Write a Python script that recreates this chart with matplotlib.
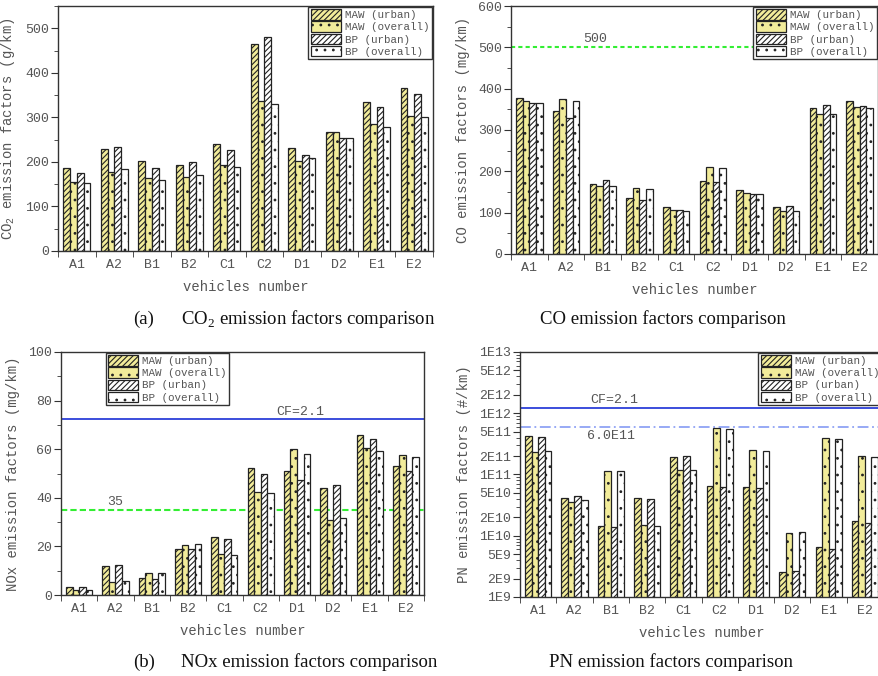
import numpy as np
import matplotlib
matplotlib.use("Agg")
import matplotlib.pyplot as plt
from matplotlib.patches import Patch
from matplotlib.ticker import FixedLocator, FixedFormatter, MultipleLocator

plt.rcParams['font.family'] = ['Liberation Mono', 'DejaVu Sans']
plt.rcParams['hatch.linewidth'] = 0.8

vehicles = ['A1', 'A2', 'B1', 'B2', 'C1', 'C2', 'D1', 'D2', 'E1', 'E2']
series = ['MAW (urban)', 'MAW (overall)', 'BP (urban)', 'BP (overall)']

# CO2, g/km
co2_maw_urban = [187, 228, 203, 193, 241, 465, 232, 267, 335, 366]
co2_maw_overall = [156, 178, 165, 166, 194, 337, 201, 267, 284, 304]
co2_bp_urban = [175, 233, 187, 199, 226, 480, 215, 254, 324, 352]
co2_bp_overall = [152, 183, 159, 171, 188, 330, 209, 254, 278, 300]

# CO, mg/km
co_maw_urban = [377, 345, 170, 136, 113, 177, 155, 114, 353, 371]
co_maw_overall = [369, 374, 164, 159, 106, 210, 148, 103, 339, 355]
co_bp_urban = [366, 330, 178, 130, 106, 175, 146, 115, 360, 357]
co_bp_overall = [366, 370, 165, 157, 104, 209, 145, 103, 338, 353]
co_limit = 500

# NOx, mg/km
nox_maw_urban = [3.5, 12.0, 7.0, 19.0, 23.8, 52.2, 51.0, 44.0, 66.0, 53.0]
nox_maw_overall = [2.0, 5.5, 9.2, 20.5, 16.8, 42.5, 60.0, 30.8, 60.6, 57.6]
nox_bp_urban = [3.5, 12.3, 6.5, 19.0, 23.0, 49.8, 47.3, 45.3, 64.0, 51.0]
nox_bp_overall = [2.0, 5.8, 9.0, 21.0, 16.5, 41.8, 58.0, 31.8, 59.2, 56.8]
nox_limit = 35
nox_cf = 72.3

# PN, #/km
pn_maw_urban = [4.2e11, 4.2e10, 1.42e10, 4.2e10, 1.92e11, 6.4e10, 6.2e10, 2.6e9, 6.6e9, 1.72e10]
pn_maw_overall = [2.3e11, 3.6e10, 1.12e11, 1.5e10, 1.2e11, 5.7e11, 2.47e11, 1.12e10, 3.9e11, 2.0e11]
pn_bp_urban = [4.1e11, 4.4e10, 1.4e10, 4.0e10, 1.97e11, 6.2e10, 6.0e10, 2.7e9, 6.0e9, 1.6e10]
pn_bp_overall = [2.4e11, 3.8e10, 1.12e11, 1.46e10, 1.2e11, 5.5e11, 2.4e11, 1.16e10, 3.8e11, 1.9e11]
pn_limit = 6.0e11
pn_cf = 1.22e12
pn_ticks = [1e9, 2e9, 5e9, 1e10, 2e10, 5e10, 1e11, 2e11, 5e11, 1e12, 2e12, 5e12, 1e13]
pn_tick_labels = ['1E9', '2E9', '5E9', '1E10', '2E10', '5E10', '1E11', '2E11',
                  '5E11', '1E12', '2E12', '5E12', '1E13']

YELLOW = '#f2ec9a'
EDGE = '#222222'
TXT = '#555555'
styles = [
    dict(facecolor=YELLOW, hatch='//////'),
    dict(facecolor=YELLOW, hatch='..'),
    dict(facecolor='white', hatch='//////'),
    dict(facecolor='white', hatch='..'),
]

fig = plt.figure(figsize=(8.79, 6.76), dpi=100)


def panel(rect, data, ylim, ylabel, legend_loc):
    ax = fig.add_axes(rect)
    x = np.arange(len(vehicles))
    w = 0.18
    for i, (vals, st) in enumerate(zip(data, styles)):
        ax.bar(x + (i - 1.5) * w, vals, w, edgecolor=EDGE, linewidth=0.9,
               **st, zorder=2)
    ax.set_xlim(-0.5, len(vehicles) - 0.5)
    ax.set_ylim(*ylim)
    ax.set_xticks(x)
    ax.set_xticklabels(vehicles)
    ax.xaxis.set_minor_locator(FixedLocator(np.arange(len(vehicles) + 1) - 0.5))
    ax.tick_params(axis='x', which='major', length=0, pad=6)
    ax.tick_params(axis='x', which='minor', length=4, direction='out', color='#333333')
    ax.tick_params(axis='y', which='major', length=5, direction='out', color='#333333', pad=1.5)
    ax.tick_params(axis='y', which='minor', length=3, direction='out', color='#333333')
    ax.tick_params(labelsize=9.5, labelcolor=TXT)
    for s in ax.spines.values():
        s.set_color('#333333')
        s.set_linewidth(1.0)
    ax.set_xlabel('vehicles number', fontsize=10, color=TXT, labelpad=6)
    ax.set_ylabel(ylabel, fontsize=10, color=TXT, labelpad=6)
    handles = [Patch(edgecolor=EDGE, linewidth=0.9, **st) for st in styles]
    leg = ax.legend(handles, series, loc=legend_loc, fontsize=7.8, frameon=True,
                    fancybox=False, edgecolor='#333333', framealpha=1,
                    handlelength=2.8, handleheight=1.1, handletextpad=0.4,
                    labelspacing=0.12, borderpad=0.2, borderaxespad=0.1)
    leg.get_frame().set_linewidth(1.0)
    for t in leg.get_texts():
        t.set_color(TXT)
    return ax


ax1 = panel([0.066, 0.6287, 0.4266, 0.3624],
            [co2_maw_urban, co2_maw_overall, co2_bp_urban, co2_bp_overall],
            (0, 550), 'CO$_\\mathregular{2}$ emission factors (g/km)', 'upper right')
ax1.yaxis.set_major_locator(MultipleLocator(100))
ax1.yaxis.set_minor_locator(MultipleLocator(50))

ax2 = panel([0.5813, 0.6243, 0.4176, 0.3668],
            [co_maw_urban, co_maw_overall, co_bp_urban, co_bp_overall],
            (0, 600), 'CO emission factors (mg/km)', 'upper right')
ax2.yaxis.set_major_locator(MultipleLocator(100))
ax2.yaxis.set_minor_locator(MultipleLocator(50))
ax2.axhline(co_limit, color='#33ee33', linestyle=(0, (2, 1.5)), linewidth=1.5, zorder=1)
ax2.text(1.8, co_limit + 5, str(co_limit), fontsize=9.5, color=TXT, ha='center', va='bottom')

ax3 = panel([0.0694, 0.1198, 0.4130, 0.3595],
            [nox_maw_urban, nox_maw_overall, nox_bp_urban, nox_bp_overall],
            (0, 100), 'NOx emission factors (mg/km)', 'upper left')
ax3.get_legend().set_bbox_to_anchor((0.12, 1.0))
ax3.yaxis.set_major_locator(MultipleLocator(20))
ax3.yaxis.set_minor_locator(MultipleLocator(10))
ax3.axhline(nox_limit, color='#33ee33', linestyle=(0, (3, 1.5)), linewidth=1.5, zorder=1)
ax3.text(1.0, nox_limit + 1, str(nox_limit), fontsize=9.5, color=TXT, ha='center', va='bottom')
ax3.axhline(nox_cf, color='#1a2fd6', linewidth=1.2, zorder=1)
ax3.text(6.1, nox_cf + 0.5, 'CF=2.1', fontsize=9.5, color=TXT, ha='center', va='bottom')

ax4 = panel([0.5916, 0.1169, 0.4130, 0.3624],
            [pn_maw_urban, pn_maw_overall, pn_bp_urban, pn_bp_overall],
            (1e9, 1e13), 'PN emission factors (#/km)', 'upper right')
ax4.set_yscale('log')
ax4.set_ylim(1e9, 1e13)
ax4.yaxis.set_major_locator(FixedLocator(pn_ticks))
ax4.yaxis.set_major_formatter(FixedFormatter(pn_tick_labels))
minor = [m * 10.0 ** e for e in range(9, 13) for m in (3, 4, 6, 7, 8, 9)]
ax4.yaxis.set_minor_locator(FixedLocator(minor))
ax4.yaxis.set_minor_formatter(FixedFormatter([''] * len(minor)))
ax4.tick_params(axis='y', which='major', length=5, direction='out', labelsize=9.5,
                labelcolor=TXT, pad=1.5)
ax4.tick_params(axis='y', which='minor', length=3, direction='out')
ax4.axhline(pn_cf, color='#1a2fd6', linewidth=1.2, zorder=1)
ax4.text(2.1, pn_cf * 1.08, 'CF=2.1', fontsize=9.5, color=TXT, ha='center', va='bottom')
ax4.axhline(pn_limit, color='#8fa2f5', linestyle=(0, (6, 2, 1, 2)), linewidth=1.3, zorder=1)
ax4.text(2.0, pn_limit * 0.9, '6.0E11', fontsize=9.5, color=TXT, ha='center', va='top')

cap = dict(family='Liberation Serif', fontsize=13.5, color='#111111', va='center')
fig.text(133 / 879, 1 - 319 / 676, '(a)', **cap)
fig.text(181 / 879, 1 - 319 / 676, 'CO$_\\mathregular{2}$ emission factors comparison', **cap)
fig.text(540 / 879, 1 - 319 / 676, 'CO emission factors comparison', **cap)
fig.text(133 / 879, 1 - 662 / 676, '(b)', **cap)
fig.text(181 / 879, 1 - 662 / 676, 'NOx emission factors comparison', **cap)
fig.text(549 / 879, 1 - 662 / 676, 'PN emission factors comparison', **cap)

fig.savefig('out.png', dpi=100)
